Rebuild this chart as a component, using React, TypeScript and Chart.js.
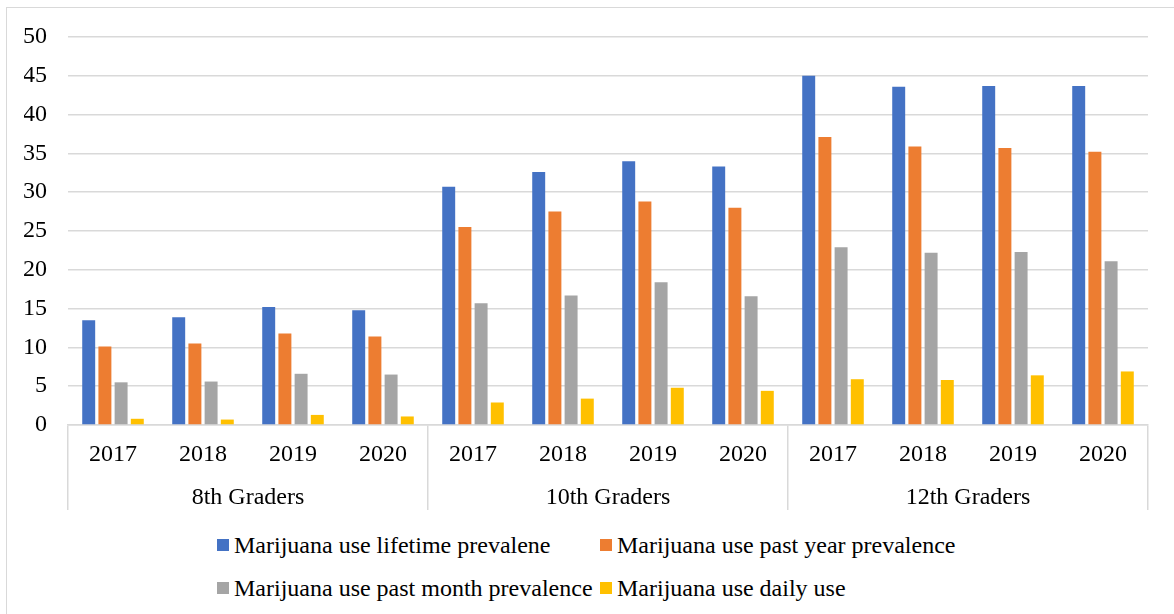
import React, { useEffect, useRef } from "react";
import { Chart, registerables } from "chart.js";

Chart.register(...registerables);

const YEARS = ["2017", "2018", "2019", "2020", "2017", "2018", "2019", "2020", "2017", "2018", "2019", "2020"];
const GROUPS = ["8th Graders", "10th Graders", "12th Graders"];

const LIFETIME = [13.5, 13.9, 15.2, 14.8, 30.7, 32.6, 34.0, 33.3, 45.0, 43.6, 43.7, 43.7];
const PAST_YEAR = [10.1, 10.5, 11.8, 11.4, 25.5, 27.5, 28.8, 28.0, 37.1, 35.9, 35.7, 35.2];
const PAST_MONTH = [5.5, 5.6, 6.6, 6.5, 15.7, 16.7, 18.4, 16.6, 22.9, 22.2, 22.3, 21.1];
const DAILY = [0.8, 0.7, 1.3, 1.1, 2.9, 3.4, 4.8, 4.4, 5.9, 5.8, 6.4, 6.9];

const SERIES_NAMES = [
  "Marijuana use lifetime prevalene",
  "Marijuana use past year prevalence",
  "Marijuana use past month prevalence",
  "Marijuana use daily use",
];
const SERIES_COLORS = ["#4472C4", "#ED7D31", "#A5A5A5", "#FFC000"];
const SERIES_DATA = [LIFETIME, PAST_YEAR, PAST_MONTH, DAILY];

const FONT = "Liberation Serif";
const GRID = "#D9D9D9";

export default function App() {
  const ref = useRef<HTMLCanvasElement | null>(null);

  useEffect(() => {
    if (!ref.current) return;
    const chart = new Chart(ref.current, {
      type: "bar",
      data: {
        labels: YEARS,
        datasets: SERIES_DATA.map((d, i) => ({
          label: SERIES_NAMES[i],
          data: d,
          backgroundColor: SERIES_COLORS[i],
          borderWidth: 0,
          categoryPercentage: 0.72,
          barPercentage: 0.8,
        })),
      },
      options: {
        animation: false,
        responsive: false,
        layout: { padding: { left: 24, right: 26, top: 37, bottom: 10 } },
        plugins: { legend: { display: false }, tooltip: { enabled: false } },
        scales: {
          y: {
            min: 0,
            max: 50,
            ticks: {
              stepSize: 5,
              padding: 21,
              color: "#000",
              font: { family: FONT, size: 24 },
            },
            grid: { color: GRID, lineWidth: 1.5, drawTicks: false },
            border: { display: false },
            afterFit: (s: any) => {
              s.width = 44;
            },
          },
          x: {
            type: "category",
            position: "bottom",
            weight: 0,
            offset: true,
            ticks: {
              autoSkip: false,
              maxRotation: 0,
              minRotation: 0,
              padding: -27,
              color: "#000",
              font: { family: FONT, size: 24 },
            },
            grid: {
              offset: true,
              drawOnChartArea: false,
              drawTicks: true,
              tickLength: 42,
              lineWidth: 1.5,
              color: (ctx: any) =>
                ctx.index === undefined || ctx.index % 4 === 0 ? GRID : "rgba(0,0,0,0)",
            },
            border: { display: true, color: GRID, width: 1.5 },
            afterFit: (s: any) => {
              s.height = 42;
            },
          },
          x2: {
            type: "category",
            position: "bottom",
            weight: 1,
            offset: true,
            labels: GROUPS,
            ticks: {
              autoSkip: false,
              maxRotation: 0,
              minRotation: 0,
              padding: -27,
              color: "#000",
              font: { family: FONT, size: 24 },
            },
            grid: {
              offset: true,
              drawOnChartArea: false,
              drawTicks: true,
              tickLength: 43,
              lineWidth: 1.5,
              color: GRID,
            },
            border: { display: false },
            afterFit: (s: any) => {
              s.height = 43;
            },
          },
        },
      },
    } as any);
    let alive = true;
    if ((document as any).fonts && (document as any).fonts.load) {
      (document as any).fonts
        .load("24px 'Liberation Serif'")
        .then(() => {
          if (alive) chart.update();
        })
        .catch(() => {});
    }
    return () => {
      alive = false;
      chart.destroy();
    };
  }, []);

  return (
    <div
      style={{
        position: "absolute",
        left: 0,
        top: 0,
        width: 1174,
        height: 614,
        overflow: "hidden",
        background: "#fff",
      }}
    >
      <div
        style={{
          position: "absolute",
          left: 6,
          top: 7,
          width: 1200,
          height: 700,
          border: `1px solid ${GRID}`,
          boxSizing: "border-box",
        }}
      />
      <canvas
        ref={ref}
        width={1174}
        height={520}
        style={{ position: "absolute", left: 0, top: 0, width: 1174, height: 520 }}
      />
      <div
        style={{
          position: "absolute",
          left: 217,
          top: 524,
          display: "grid",
          gridTemplateColumns: "383px 383px",
          gridAutoRows: "42.5px",
          fontFamily: "'Liberation Serif', serif",
          fontSize: 24,
          lineHeight: 1,
          color: "#000",
          whiteSpace: "nowrap",
        }}
      >
        {SERIES_NAMES.map((name, i) => (
          <div key={name} style={{ display: "flex", alignItems: "center" }}>
            <span
              style={{
                display: "inline-block",
                width: 12,
                height: 12,
                background: SERIES_COLORS[i],
                marginRight: 5,
                flex: "none",
              }}
            />
            <span>{name}</span>
          </div>
        ))}
      </div>
    </div>
  );
}
